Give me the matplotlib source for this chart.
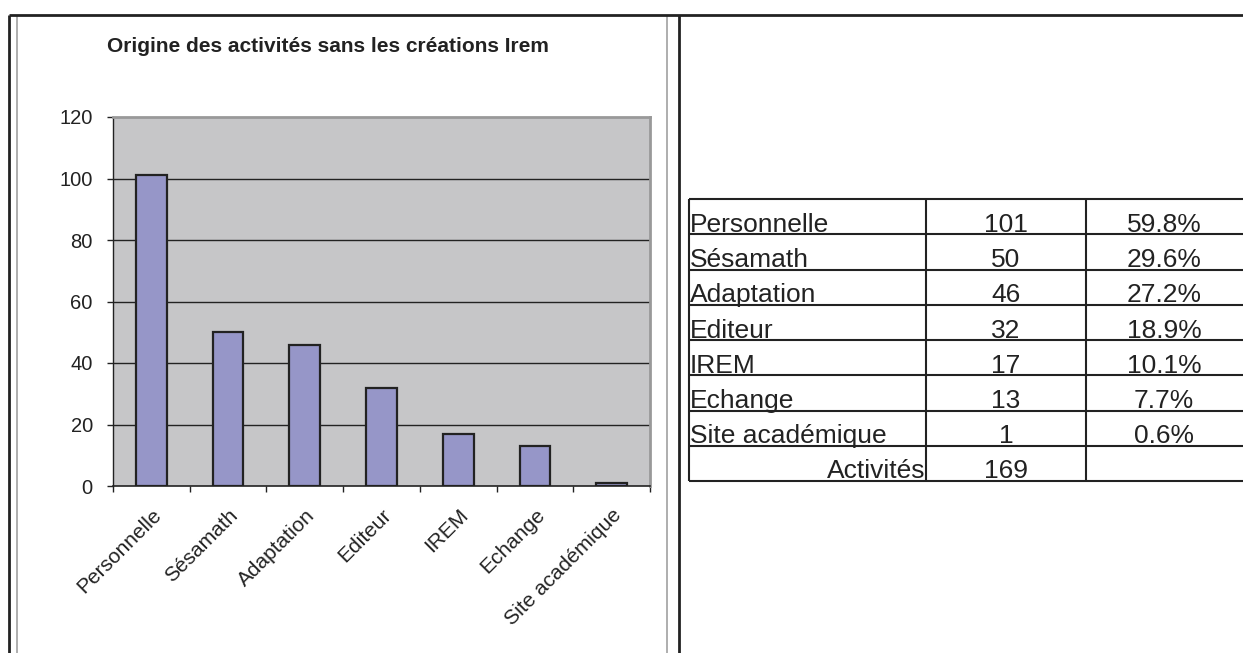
import matplotlib.pyplot as plt
from matplotlib.lines import Line2D
from matplotlib.transforms import ScaledTranslation

plt.rcParams["font.family"] = ["Liberation Sans", "DejaVu Sans"]

categories = ["Personnelle", "Sésamath", "Adaptation", "Editeur", "IREM", "Echange", "Site académique"]
counts = [101, 50, 46, 32, 17, 13, 1]
percents = ["59.8%", "29.6%", "27.2%", "18.9%", "10.1%", "7.7%", "0.6%"]
total_label = "Activités"
total_count = 169
y_ticks = [0, 20, 40, 60, 80, 100, 120]

W, H = 1243, 653
fig = plt.figure(figsize=(W / 100, H / 100), dpi=100)


def fx(x):
    return x / W


def fy(y):
    return 1 - y / H


def line(x0, y0, x1, y1, color="#222222", lw=1.5):
    fig.add_artist(Line2D([fx(x0), fx(x1)], [fy(y0), fy(y1)], color=color, lw=lw,
                          transform=fig.transFigure, solid_capstyle="butt"))


# page frame: gray chart border and black table cell lines
line(17, 16, 17, H, color="#999999", lw=1.1)
line(667, 16, 667, H, color="#999999", lw=1.1)
line(9, 15, W, 15, lw=2)
line(9, 15, 9, H, lw=2)
line(679, 15, 679, H, lw=2)

fig.text(fx(328), fy(47), "Origine des activités sans les créations Irem",
         ha="center", va="center", fontsize=15, fontweight="bold", color="#222222")

# bar chart
ax = fig.add_axes([fx(113), fy(486), fx(650) - fx(113), fy(117) - fy(486)])
ax.set_facecolor("#c6c6c8")
xs = list(range(len(categories)))
ax.bar(xs, counts, width=0.4, color="#9696c8", edgecolor="#222222", linewidth=1.6, zorder=3)
ax.set_xlim(-0.5, len(categories) - 0.5)
ax.set_ylim(0, 120)
ax.set_yticks(y_ticks)
ax.set_yticklabels([str(v) for v in y_ticks], fontsize=14.5, color="#222222")
for v in y_ticks[1:-1]:
    ax.axhline(v, color="#222222", lw=1, zorder=1)

ax.set_xticks(xs)
ax.set_xticklabels(categories, rotation=45, ha="right", rotation_mode="anchor",
                   fontsize=15, color="#222222")
shift = ScaledTranslation(-3 / 100, -2 / 100, fig.dpi_scale_trans)
for lab in ax.get_xticklabels():
    lab.set_transform(lab.get_transform() + shift)
ax.tick_params(axis="x", which="major", length=0, pad=14)
ax.set_xticks([i - 0.5 for i in range(len(categories) + 1)], minor=True)
ax.tick_params(axis="x", which="minor", length=4.5, width=1, color="#222222")
ax.tick_params(axis="y", length=4.5, width=1, color="#222222", pad=10)

for s in ["top", "right"]:
    ax.spines[s].set_color("#999999")
    ax.spines[s].set_linewidth(2)
ax.spines["left"].set_color("#222222")
ax.spines["bottom"].set_color("#222222")
ax.spines["left"].set_linewidth(1)
ax.spines["bottom"].set_linewidth(1.2)

# table on the right
col_x = [689, 926, 1086, 1242]
row_top = 199
row_h = 35.25
n_rows = len(categories) + 1
for i in range(n_rows + 1):
    y = row_top + i * row_h
    line(col_x[0], y, W, y)
for x in col_x[:3]:
    line(x, row_top, x, row_top + n_rows * row_h)

ts = 19
for i, (cat, n, p) in enumerate(zip(categories, counts, percents)):
    yb = fy(row_top + (i + 1) * row_h - 2.5)
    fig.text(fx(col_x[0] + 1), yb, cat, ha="left", va="baseline", fontsize=ts, color="#222222")
    fig.text(fx((col_x[1] + col_x[2]) / 2), yb, str(n), ha="center", va="baseline",
             fontsize=ts, color="#222222")
    fig.text(fx((col_x[2] + col_x[3]) / 2), yb, p, ha="center", va="baseline",
             fontsize=ts, color="#222222")

yb = fy(row_top + n_rows * row_h - 2.5)
fig.text(fx(col_x[1] - 1), yb, total_label, ha="right", va="baseline", fontsize=ts, color="#222222")
fig.text(fx((col_x[1] + col_x[2]) / 2), yb, str(total_count), ha="center", va="baseline",
         fontsize=ts, color="#222222")

fig.savefig("out.png", dpi=100)
